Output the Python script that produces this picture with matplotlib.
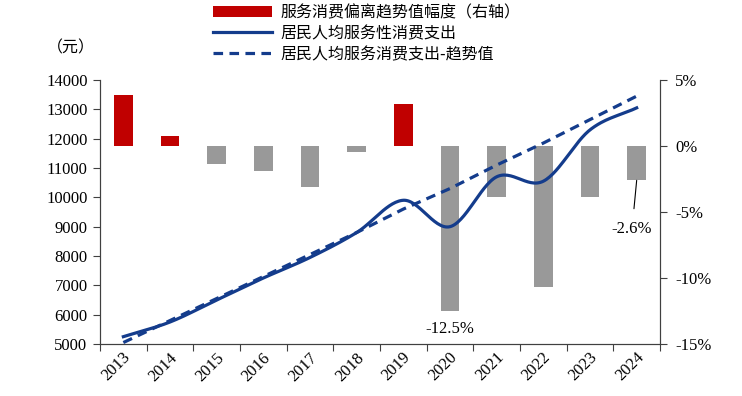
import matplotlib.pyplot as plt
import matplotlib.transforms as mtransforms
import numpy as np

plt.rcParams['font.family'] = ['Liberation Serif', 'Noto Sans CJK SC', 'DejaVu Sans']

# data
years = ['2013', '2014', '2015', '2016', '2017', '2018',
         '2019', '2020', '2021', '2022', '2023', '2024']
spend = [5250, 5750, 6500, 7250, 7950, 8800, 9900, 9000, 10700, 10550, 12300, 13050]
trend = [5050, 5800, 6550, 7300, 8050, 8800, 9600, 10300, 11100, 11850, 12650, 13450]
dev = [3.9, 0.75, -1.4, -1.9, -3.1, -0.45, 3.2, -12.5, -3.9, -10.7, -3.9, -2.6]

left_ticks = list(range(5000, 14001, 1000))
right_ticks = [-15, -10, -5, 0, 5]

blue = '#143C8C'
red = '#C00000'
gray = '#999999'
axc = '#404040'


def smooth(xs, ys, n=30):
    # catmull-rom curve through the points, like Excel's smoothed line
    xs = np.asarray(xs, float)
    ys = np.asarray(ys, float)
    px = np.concatenate([[2 * xs[0] - xs[1]], xs, [2 * xs[-1] - xs[-2]]])
    py = np.concatenate([[2 * ys[0] - ys[1]], ys, [2 * ys[-1] - ys[-2]]])
    ox, oy = [], []
    t = np.linspace(0, 1, n, endpoint=False)
    for i in range(1, len(px) - 2):
        for p, o in ((px, ox), (py, oy)):
            p0, p1, p2, p3 = p[i - 1], p[i], p[i + 1], p[i + 2]
            o.extend(0.5 * (2 * p1 + (-p0 + p2) * t + (2 * p0 - 5 * p1 + 4 * p2 - p3) * t ** 2
                            + (-p0 + 3 * p1 - 3 * p2 + p3) * t ** 3))
    ox.append(xs[-1])
    oy.append(ys[-1])
    return np.array(ox), np.array(oy)


fig = plt.figure(figsize=(7.42, 3.96), dpi=100)
ax = fig.add_axes([0.1348, 0.1313, 0.7547, 0.6667])
x = np.arange(len(years))

# bars on the right axis
colors = [red if v > 0 else gray for v in dev]
bars = ax.bar(x, dev, width=0.4, color=colors, zorder=2)
ax.set_ylim(-15, 5)
ax.set_xlim(-0.5, len(years) - 0.5)
ax.set_xticks(np.arange(-0.5, len(years), 1))
ax.set_xticklabels([])
ax.set_xticks(x, minor=True)
ax.set_xticklabels(years, minor=True, rotation=45, fontsize=12)
ax.tick_params(axis='x', which='minor', length=0, pad=4)
ax.tick_params(axis='x', which='major', length=5, color=axc)
for lab in ax.get_xticklabels(minor=True):
    lab.set_transform(lab.get_transform() + mtransforms.ScaledTranslation(-0.07, 0, fig.dpi_scale_trans))

# lines on the left axis
ax2 = ax.twinx()
ax2.yaxis.tick_left()
ax2.set_ylim(5000, 14000)
ax2.set_yticks(left_ticks)
ax2.tick_params(axis='y', length=5, color=axc, labelsize=12, pad=4)
sx, sy = smooth(x, spend)
l1, = ax2.plot(sx, sy, color=blue, lw=2.3)
l2, = ax2.plot(x, trend, color=blue, lw=2.3, ls=(0, (3, 2)))

ax.yaxis.tick_right()
ax.set_yticks(right_ticks)
ax.set_yticklabels([f'{v}%' for v in right_ticks])
ax.tick_params(axis='y', length=5, color=axc, labelsize=12, pad=6)

for a in (ax, ax2):
    a.spines['top'].set_visible(False)
    for s in ('left', 'right', 'bottom'):
        a.spines[s].set_color(axc)

# labels
ax.text(7, -13.9, '-12.5%', ha='center', va='center', fontsize=12)
ax.annotate('-2.6%', xy=(11, -2.6), xytext=(10.9, -6.3), ha='center', va='center',
            fontsize=12, arrowprops=dict(arrowstyle='-', color='black', lw=0.8,
                                         shrinkA=7, shrinkB=0))
fig.text(0.095, 0.878, '（元）', ha='center', va='center', fontsize=11.5)

fig.legend([bars, l1, l2],
           ['服务消费偏离趋势值幅度（右轴）', '居民人均服务性消费支出', '居民人均服务消费支出-趋势值'],
           loc='upper left', bbox_to_anchor=(213 / 742, 1 - 4 / 396), frameon=False,
           prop={'family': ['Noto Sans CJK SC'], 'size': 11.5}, handlelength=3.7,
           labelspacing=0.25, handletextpad=0.5, borderaxespad=0, borderpad=0)

fig.savefig('out.png', dpi=100)
